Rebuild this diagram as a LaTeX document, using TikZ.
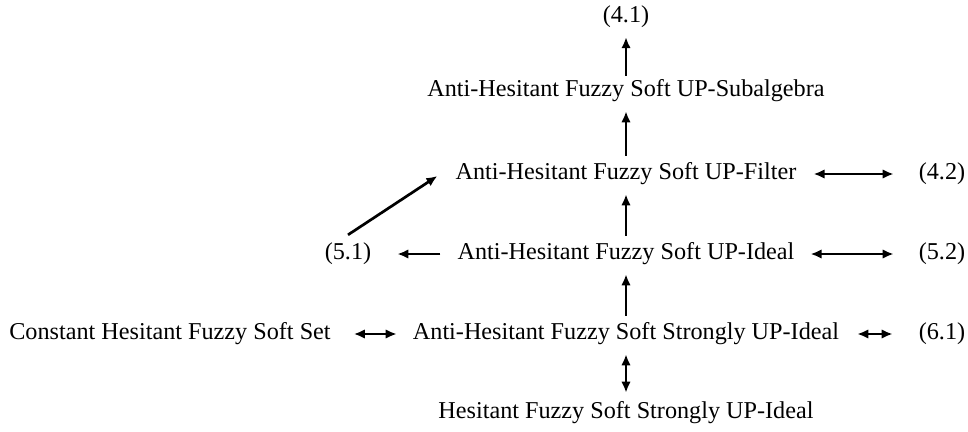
\documentclass[tikz,border=0pt]{standalone}
\usepackage{fontspec}
\setmainfont{Liberation Serif}
\usetikzlibrary{arrows.meta}
\tikzstyle{label} = [inner sep=0pt, font=\fontsize{24.2}{28}\selectfont]
\tikzstyle{imp} = [-{Latex[length=11pt,width=9.5pt]}, line width=2.7pt]
\tikzstyle{iff} = [{Latex[length=11pt,width=9.5pt]}-{Latex[length=11pt,width=9.5pt]}, line width=2.7pt]

\begin{document}
\begin{tikzpicture}[x=1pt, y=-1pt]
\useasboundingbox (0,0) rectangle (968,431);

\node[label, name=r41] at (626,17) {(4.1)};
\node[label, name=sub] at (626,91) {Anti-Hesitant Fuzzy Soft UP-Subalgebra};
\node[label, name=filter] at (626,174) {Anti-Hesitant Fuzzy Soft UP-Filter};
\node[label, name=r42] at (942,174) {(4.2)};
\node[label, name=r51] at (348,254) {(5.1)};
\node[label, name=ideal] at (626,254) {Anti-Hesitant Fuzzy Soft UP-Ideal};
\node[label, name=r52] at (942,254) {(5.2)};
\node[label, name=const] at (170,334) {Constant Hesitant Fuzzy Soft Set};
\node[label, name=strong] at (626,334) {Anti-Hesitant Fuzzy Soft Strongly UP-Ideal};
\node[label, name=r61] at (942,334) {(6.1)};
\node[label, name=hes] at (626,413) {Hesitant Fuzzy Soft Strongly UP-Ideal};

\draw[imp, shorten <=4pt, shorten >=9pt] (sub) -- (r41);
\draw[imp, shorten <=7pt, shorten >=9pt] (filter) -- (sub);
\draw[imp, shorten <=7pt, shorten >=9pt] (ideal) -- (filter);
\draw[imp, shorten <=7pt, shorten >=9pt] (strong) -- (ideal);
\draw[iff, shorten <=9pt, shorten >=9pt] (strong) -- (hes);

\draw[iff, shorten <=17pt, shorten >=25pt] (filter) -- (r42);
\draw[iff, shorten <=16pt, shorten >=25pt] (ideal) -- (r52);
\draw[imp, shorten <=17pt, shorten >=26pt] (ideal) -- (r51);
\draw[iff, shorten <=23pt, shorten >=16pt] (const) -- (strong);
\draw[iff, shorten <=18pt, shorten >=26pt] (strong) -- (r61);

\draw[imp] ([yshift=8pt]r51.north) -- ([xshift=-18pt,yshift=-2pt]filter.west);

\end{tikzpicture}
\end{document}
